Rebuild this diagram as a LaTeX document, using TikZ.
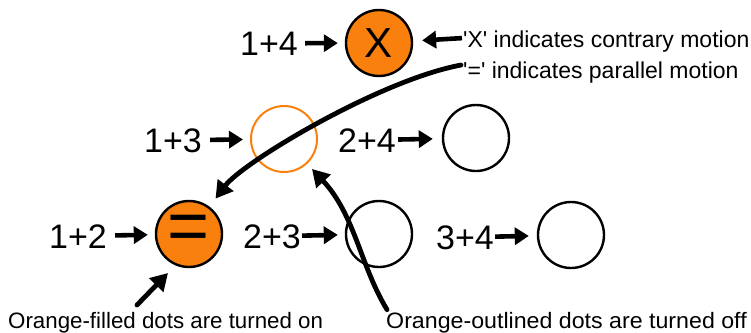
\documentclass[tikz,border=0pt]{standalone}
\usepackage{fontspec}
\setmainfont{Liberation Sans}
\usetikzlibrary{arrows.meta,calc}
\definecolor{dotorange}{RGB}{249,128,12}
\begin{document}
\begin{tikzpicture}[x=1pt,y=-1pt,
  dot/.style={circle,draw=black,line width=2.4pt,minimum size=66pt,inner sep=0pt},
  ondot/.style={dot,fill=dotorange},
  offdot/.style={dot,draw=dotorange,line width=2pt},
  lbl/.style={anchor=base,inner sep=0pt,font=\fontsize{34}{34}\selectfont},
  note/.style={anchor=base west,inner sep=0pt,font=\fontsize{23}{26}\selectfont},
  bnote/.style={note,font=\fontsize{22.3}{26}\selectfont},
  sarrow/.style={line width=4.6pt,-{Triangle[length=14pt,width=17pt]}},
  carrow/.style={line width=4.8pt,line cap=round,-{Triangle[length=17pt,width=19pt]}}]
\useasboundingbox (0,0) rectangle (751,332);
% dots
\node[ondot] (c14) at (379,43) {};
\node[offdot] (c13) at (284,139) {};
\node[dot] (c24) at (476,138) {};
\node[ondot] (c12) at (189,234) {};
\node[dot] (c23) at (379,234) {};
\node[dot] (c34) at (571,235) {};
% symbols in dots
\node[inner sep=0pt,font=\fontsize{42}{42}\selectfont] at (c14) {X};
\node[inner sep=0pt,font=\fontsize{72}{72}\selectfont] at ($(c12)+(0,-1)$) {=};
% labels
\node[lbl] (l14) at (269,55) {1+4};
\node[lbl] (l13) at (173,152) {1+3};
\node[lbl] (l24) at (367,152) {2+4};
\node[lbl] (l12) at (78,248) {1+2};
\node[lbl] (l23) at (272,248) {2+3};
\node[lbl] (l34) at (465,249) {3+4};
% short arrows
\draw[sarrow,shorten <=7pt,shorten >=7pt] (l14) -- (c14);
\draw[sarrow,shorten <=8pt,shorten >=7pt] (l13) -- (c13);
\draw[sarrow,shorten <=2pt,shorten >=9pt] (l24) -- (c24);
\draw[sarrow,shorten <=8pt,shorten >=7pt] (l12) -- (c12);
\draw[sarrow,shorten <=1pt,shorten >=7pt] (l23) -- (c23);
\draw[sarrow,shorten <=1pt,shorten >=8pt] (l34) -- (c34);
% notes
\node[note] (xtxt) at (463,47) {\textquotesingle X\textquotesingle\ indicates contrary motion};
\node[note] (eqtxt) at (463,78) {\textquotesingle=\textquotesingle\ indicates parallel motion};
\node[bnote] (ontxt) at (8,328) {Orange-filled dots are turned on};
\node[bnote] (offtxt) at (386,328) {\addfontfeature{FakeStretch=1.04}Orange-outlined dots are turned off};
% note arrows
\draw[sarrow,shorten <=1pt,shorten >=9pt] (xtxt.west) ++(0,-3) -- (c14);
\draw[carrow,shorten >=10pt] ($(eqtxt.west)+(-2,-7)$) .. controls (380,80) and (243,162) .. (c12);
\coordinate (ontail) at (137,305);
\coordinate (ontip) at (168,273);
\draw[carrow] (ontail) -- (ontip);
\draw[carrow,shorten >=7pt] ($(offtxt.north west)+(1,-2)$) .. controls (360,265) and (355,215) .. (c13);
\end{tikzpicture}
\end{document}
